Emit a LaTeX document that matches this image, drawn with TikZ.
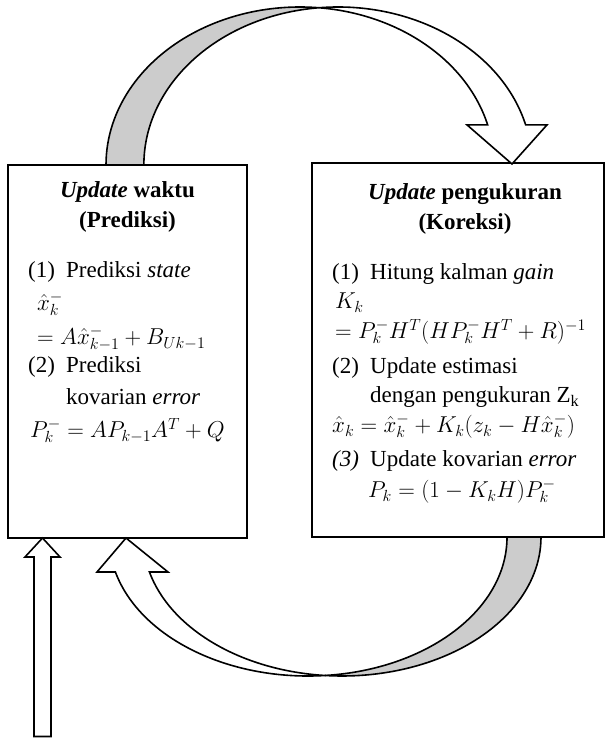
\RequirePackage{fix-cm}
\documentclass[tikz,border=0pt]{standalone}
\usepackage{fontspec}
\setmainfont{Liberation Serif}
\definecolor{bandgray}{RGB}{204,204,204}
\tikzset{
  boxline/.style={draw=black, line width=1.3pt, inner sep=0pt},
  bandline/.style={draw=black, line width=1.6pt, line join=miter},
  txt/.style={inner sep=0pt, anchor=base west, font=\fontsize{23}{27}\selectfont},
  ttl/.style={inner sep=0pt, anchor=base, font=\fontsize{23}{27}\selectfont\bfseries},
}
\begin{document}
\begin{tikzpicture}[x=1pt,y=1pt]
\useasboundingbox (0,0) rectangle (607,738);
% boxes
\node[boxline, minimum width=239pt, minimum height=373pt] (pred) at (127.5,386.5) {};
\node[boxline, minimum width=292pt, minimum height=374pt] (kor) at (458,388) {};
% top curved arrow (back, gray)
\draw[bandline, fill=bandgray] (106,573)
  arc[start angle=180, end angle=84.4, x radius=194pt, y radius=158pt]
  arc[start angle=95.6, end angle=180, x radius=194pt, y radius=158pt] -- cycle;
% top curved arrow (front, white)
\draw[bandline, fill=white] (338,573) ++(95.6:194pt and 158pt)
  arc[start angle=95.6, end angle=14.7, x radius=194pt, y radius=158pt]
  -- (547,613.1) -- (512,574) -- (467,613.1) -- (487.65,613.09)
  arc[start angle=14.7, end angle=84.4, x radius=194pt, y radius=158pt] -- cycle;
% bottom curved arrow (back, gray)
\draw[bandline, fill=bandgray] (541,201)
  arc[start angle=0, end angle=-94.9, x radius=199pt, y radius=139pt]
  arc[start angle=-85.1, end angle=0, x radius=199pt, y radius=139pt] -- cycle;
% bottom curved arrow (front, white)
\draw[bandline, fill=white] (342,201) ++(-94.9:199pt and 139pt)
  arc[start angle=-94.9, end angle=-165.42, x radius=199pt, y radius=139pt]
  -- (168,166) -- (126,200) -- (97,166) -- (115.4,166)
  arc[start angle=-165.42, end angle=-85.1, x radius=199pt, y radius=139pt] -- cycle;
% input arrow
\draw[bandline, fill=white] (34,1.5) -- (34,181) -- (25,181) -- (42.5,200)
  -- (60,181) -- (51,181) -- (51,1.5) -- cycle;
% left box text
\node[ttl] (t1) at (127.5,540) {\textit{Update} waktu};
\node[ttl] (t2) at (127.5,510) {(Prediksi)};
\node[txt] (l1) at (28,460) {\makebox[38pt][l]{(1)}Prediksi \textit{state}};
\node[txt] (l2) at (37,427) {$\hat{x}_k^-$};
\node[txt] (l3) at (37,393) {$= A\hat{x}_{k-1}^- + B_{Uk-1}$};
\node[txt] (l4) at (28,365) {\makebox[38pt][l]{(2)}Prediksi};
\node[txt] (l5) at (66,333) {kovarian \textit{error}};
\node[txt] (l6) at (30,300) {$P_k^- = AP_{k-1}A^T + Q$};
% right box text
\node[ttl] (r0) at (465,538) {\textit{Update} pengukuran};
\node[ttl] (r00) at (465,508) {(Koreksi)};
\node[txt] (r1) at (332,458) {\makebox[38pt][l]{(1)}Hitung kalman \textit{gain}};
\node[txt] (r2) at (335,429) {$K_k$};
\node[txt] (r3) at (335,399) {$= P_k^-H^T(HP_k^-H^T + R)^{-1}$};
\node[txt] (r4) at (332,364) {\makebox[38pt][l]{(2)}Update estimasi};
\node[txt] (r5) at (370,335) {dengan pengukuran Z\textsubscript{k}};
\node[txt] (r6) at (332,305) {$\hat{x}_k = \hat{x}_k^- + K_k(z_k - H\hat{x}_k^-)$};
\node[txt] (r7) at (332,271) {\makebox[38pt][l]{\textit{(3)}}Update kovarian \textit{error}};
\node[txt] (r8) at (368,240) {$P_k = (1 - K_kH)P_k^-$};
\end{tikzpicture}
\end{document}
